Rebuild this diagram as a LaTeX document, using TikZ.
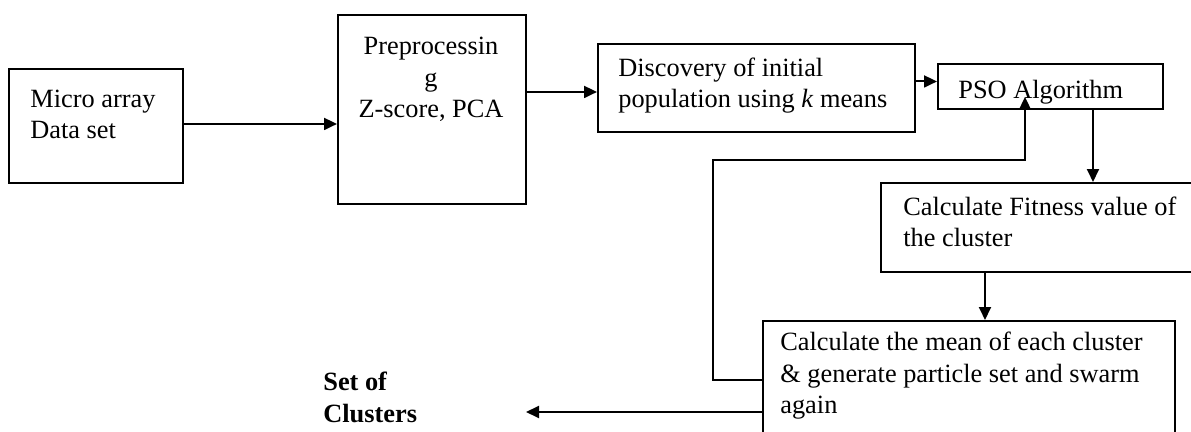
\documentclass[tikz,border=0pt]{standalone}
\usepackage{fontspec}
\setmainfont{Liberation Serif}
\usetikzlibrary{arrows.meta,calc}

\tikzset{
    caja/.style={draw, line width=1.1pt, rectangle, anchor=north west, inner sep=0pt},
    texto/.style={anchor=base west, inner sep=0pt, align=left,
        font=\fontsize{15}{18.2}\selectfont},
    flecha/.style={line width=1.1pt, -{Triangle[length=0.26cm,width=0.24cm]}}
}

\begin{document}
\begin{tikzpicture}[x=0.02cm, y=-0.02cm]
        % Marco de la figura.
        \useasboundingbox (0,0) rectangle (1191,432);

        % Cajas del proceso.
        \node[caja, minimum width=174*0.02cm, minimum height=114*0.02cm] (micro) at (8,68) {};
        \node[caja, minimum width=188*0.02cm, minimum height=189*0.02cm] (prep) at (337,14) {};
        \node[caja, minimum width=317*0.02cm, minimum height=88*0.02cm] (desc) at (597,43) {};
        \node[caja, minimum width=225*0.02cm, minimum height=45*0.02cm] (pso) at (937,63) {};
        \node[caja, minimum width=320*0.02cm, minimum height=89*0.02cm] (fit) at (880,182) {};
        \node[caja, minimum width=412*0.02cm, minimum height=150*0.02cm] (media) at (762,320) {};

        % Textos de cada caja (la base es la de la ultima linea).
        \node[texto] (micro-t) at (30,139) {Micro array\\Data set};
        \node[texto, anchor=base, align=center] (prep-t) at (431,118) {Preprocessin\\g\\Z-score, PCA};
        \node[texto] (desc-t) at (618,108) {Discovery of initial\\population using \textit{k} means};
        \node[texto] (pso-t) at (958,99) {PSO Algorithm};
        \node[texto] (fit-t) at (903,247) {Calculate Fitness value of\\the cluster};
        \node[texto] (media-t) at (780,414) {Calculate the mean of each cluster\\\& generate particle set and swarm\\again};
        \node[texto, font=\fontsize{15}{18.2}\selectfont\bfseries] (conj) at (323,422) {Set of\\Clusters};

        % Puntos auxiliares de las flechas.
        \coordinate (bajada1) at ($(pso.south west)+(156,0)$);
        \coordinate (bajada2) at ($(fit.south west)+(105,0)$);
        \coordinate (entrada) at ($(pso.south west)+(88,-13)$);
        \coordinate (giro) at (713,160);
        \coordinate (salida) at (526,412);

        % Flechas del flujo principal.
        \draw[flecha] ($(micro.east)+(0,-2)$) -- ($(micro.east -| prep.west)+(0,-2)$);
        \draw[flecha] ($(prep.east |- desc.west)+(0,4)$) -- ($(desc.west)+(0,4)$);
        \draw[flecha] ($(desc.east |- pso.west)+(0,-5)$) -- ($(pso.west)+(0,-5)$);
        \draw[flecha] (bajada1) -- (bajada1 |- fit.north);
        \draw[flecha] (bajada2) -- (bajada2 |- media.north);

        % Lazo de regreso al PSO y salida final.
        \draw[flecha] ($(media.north west)+(0,60)$) -| (giro) -| (entrada);
        \draw[flecha] ($(media.north west)+(0,92)$) -- (salida);
    \end{tikzpicture}
\end{document}
